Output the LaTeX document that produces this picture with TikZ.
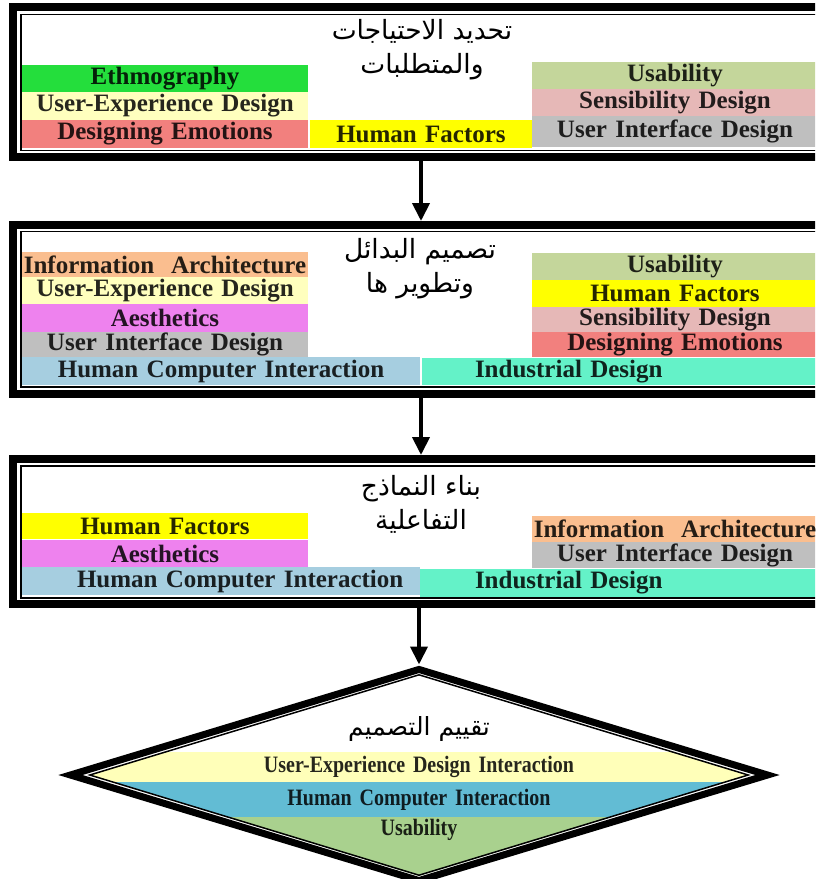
\documentclass[tikz,border=0pt]{standalone}
\usepackage{fontspec}
\setmainfont{Liberation Serif}
\newfontfamily\arabicfont[Script=Arabic]{DejaVu Sans}
\newfontfamily\narrowserif[FakeStretch=0.85]{Liberation Serif}
\TeXXeTstate=1
\usetikzlibrary{arrows.meta,shapes.geometric}
\definecolor{ethnographyColor}{RGB}{36,222,60}
\definecolor{uxColor}{RGB}{255,255,190}
\definecolor{emotionsColor}{RGB}{242,128,126}
\definecolor{factorsColor}{RGB}{255,255,0}
\definecolor{usabilityColor}{RGB}{196,214,155}
\definecolor{sensibilityColor}{RGB}{230,184,183}
\definecolor{interfaceColor}{RGB}{191,191,191}
\definecolor{architectureColor}{RGB}{250,190,143}
\definecolor{aestheticsColor}{RGB}{238,130,238}
\definecolor{hciColor}{RGB}{166,206,224}
\definecolor{industrialColor}{RGB}{100,242,200}
\definecolor{evalUxColor}{RGB}{255,255,185}
\definecolor{evalHciColor}{RGB}{98,188,212}
\definecolor{evalUsabilityColor}{RGB}{169,209,142}
\tikzset{frame/.style={draw, line width=8pt, minimum width=816}}
\tikzset{innerframe/.style={draw, line width=1.5pt, minimum width=800}}
\tikzset{bar/.style={fill=#1, text=#1!15!black, anchor=north west, inner sep=0pt, outer sep=0pt, align=center, font=\bfseries\fontsize{25}{25}\selectfont}}
\tikzset{textat/.style={align=left, execute at begin node={\hspace*{#1pt}}}}
\tikzset{band/.style={bar=#1, minimum height=30, text width=720, font=\narrowserif\bfseries\fontsize{23.5}{23.5}\selectfont}}
\tikzset{title/.style={align=center, font=\arabicfont\fontsize{26.5}{34}\selectfont}}
\tikzstyle{arrow} = [line width=4pt, -{Triangle[length=18pt, width=17pt]}]

\begin{document}
\begin{tikzpicture}[x=1pt, y=-1pt]
	\useasboundingbox (0,0) rectangle (815,879);
	\fill[white] (0,0) rectangle (815,879);
	\clip (0,0) rectangle (815,879);
	% Nodes
	\node (needs) [frame, minimum height=150] at (421,82) {};
	\node (needsinner) [innerframe, minimum height=136] at (421,82.5) {};
	\node (needstitle) [title] at (422,50) {\beginR تحديد الاحتياجات\endR\\ \beginR والمتطلبات\endR};
	\node (needsethno) [bar=ethnographyColor, text width=286, minimum height=27] at (22,65) {Ethmography};
	\node (needsux) [bar=uxColor, text width=286, minimum height=28] at (22,92) {User-Experience Design};
	\node (needsemotions) [bar=emotionsColor, text width=286, minimum height=28] at (22,120) {Designing Emotions};
	\node (needsfactors) [bar=factorsColor, text width=222, minimum height=28] at (310,120) {Human Factors};
	\node (needsusability) [bar=usabilityColor, text width=286, minimum height=27] at (532,62) {Usability};
	\node (needssensibility) [bar=sensibilityColor, text width=286, minimum height=27] at (532,89) {Sensibility Design};
	\node (needsinterface) [bar=interfaceColor, text width=286, minimum height=31] at (532,116) {User Interface Design};

	\node (alternatives) [frame, minimum height=169] at (421,309.5) {};
	\node (alternativesinner) [innerframe, minimum height=155.5] at (421,309.25) {};
	\node (alternativestitle) [title] at (420,269) {\beginR تصميم البدائل\endR\\ \beginR وتطوير ها\endR};
	\node (altarchitecture) [bar=architectureColor, text width=286, minimum height=25] at (22,252) {Information\ \ Architecture};
	\node (altux) [bar=uxColor, text width=286, minimum height=27] at (22,277) {User-Experience Design};
	\node (altaesthetics) [bar=aestheticsColor, text width=286, minimum height=28] at (22,304) {Aesthetics};
	\node (altinterface) [bar=interfaceColor, text width=286, minimum height=25] at (22,332) {User Interface Design};
	\node (althci) [bar=hciColor, text width=398, minimum height=28] at (22,357) {Human Computer Interaction};
	\node (altindustrial) [bar=industrialColor, text width=396, minimum height=27, textat=53] at (422,358) {Industrial Design};
	\node (altusability) [bar=usabilityColor, text width=286, minimum height=27] at (532,253) {Usability};
	\node (altfactors) [bar=factorsColor, text width=286, minimum height=27] at (532,280) {Human Factors};
	\node (altsensibility) [bar=sensibilityColor, text width=286, minimum height=25] at (532,307) {Sensibility Design};
	\node (altemotions) [bar=emotionsColor, text width=286, minimum height=25] at (532,332) {Designing Emotions};

	\node (prototypes) [frame, minimum height=145] at (421,531.5) {};
	\node (prototypesinner) [innerframe, minimum height=132] at (421,532) {};
	\node (prototypestitle) [title] at (421,504) {\beginR بناء النماذج\endR\\ \beginR التفاعلية\endR};
	\node (protfactors) [bar=factorsColor, text width=286, minimum height=26] at (22,513) {Human Factors};
	\node (protaesthetics) [bar=aestheticsColor, text width=286, minimum height=27] at (22,540) {Aesthetics};
	\node (prothci) [bar=hciColor, text width=398, minimum height=28, textat=55] at (22,567) {Human Computer Interaction};
	\node (protarchitecture) [bar=architectureColor, text width=286, minimum height=26] at (532,516) {Information\ \ Architecture};
	\node (protinterface) [bar=interfaceColor, text width=286, minimum height=26] at (532,542) {User Interface Design};
	\node (protindustrial) [bar=industrialColor, text width=398, minimum height=28, textat=55] at (420,569) {Industrial Design};

	\node (evaluation) [diamond, draw, line width=7pt, fill=white, minimum width=700, minimum height=214, inner sep=0pt] at (419,775) {};
	\begin{scope}
		\clip (419,674) -- (748,775) -- (419,876) -- (90,775) -- cycle;
		\fill[evalUsabilityColor] (60,817) rectangle (780,900);
		\node (evalux) [band=evalUxColor] at (59,752) {User-Experience Design Interaction};
		\node (evalhci) [band=evalHciColor, minimum height=35] at (59,782) {Human Computer Interaction};
		\node (evalusability) [band=evalUsabilityColor, minimum height=26] at (59,817) {Usability};
	\end{scope}
	\node (evaluationinner) [diamond, draw, line width=1.5pt, minimum width=659, minimum height=201, inner sep=0pt] at (419,775) {};
	\node (evaluationtitle) [title, font=\arabicfont\fontsize{25}{25}\selectfont] at (419,729) {\beginR تقييم التصميم\endR};

	% Connectors
	\begin{scope}[->]
	\draw [arrow] (needs) -- (alternatives);
	\draw [arrow] (alternatives) -- (prototypes);
	\draw [arrow] (prototypes.south -| evaluation.north) -- (evaluation.north);
	\end{scope}
\end{tikzpicture}
\end{document}
